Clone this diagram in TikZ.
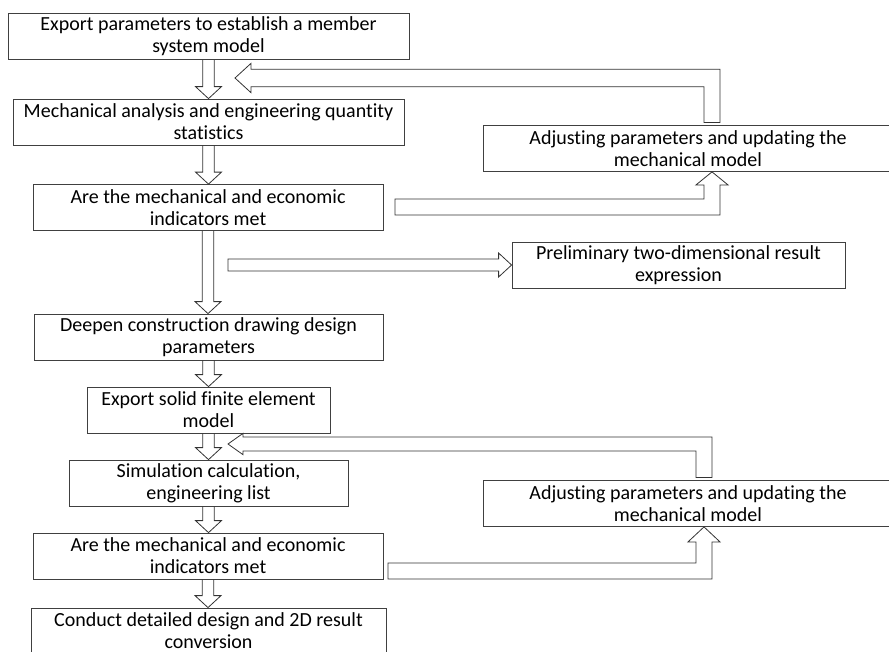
\documentclass[tikz,border=0pt]{standalone}
\usepackage{fontspec}
\setmainfont{Carlito}[Ligatures=NoCommon]
\usetikzlibrary{calc}

\tikzset{
  stepbox/.style={draw=black!75, line width=0.6pt, rectangle, align=center, inner sep=0pt,
    minimum height=34.5pt, font=\fontsize{15}{16.5}\selectfont},
  blockarrow/.style={draw=black!80, line width=0.6pt},
}

\begin{document}
\begin{tikzpicture}[x=0.75pt,y=-0.75pt]
\useasboundingbox (0,0) rectangle (889,651);

% main column
\node[stepbox, minimum width=300.75pt] (b1) at (208.5,36.5) {Export parameters to establish a member\\system model};
\node[stepbox, minimum width=293.25pt] (b2) at (208.5,122) {Mechanical analysis and engineering quantity\\statistics};
\node[stepbox, minimum width=262.5pt] (b3) at (208,207.5) {Are the mechanical and economic\\indicators met};
\node[stepbox, minimum width=261.75pt] (b4) at (208.5,337) {Deepen construction drawing design\\parameters};
\node[stepbox, minimum width=182.25pt] (b5) at (208.5,410) {Export solid finite element\\model};
\node[stepbox, minimum width=209.25pt] (b6) at (208.5,483) {Simulation calculation,\\engineering list};
\node[stepbox, minimum width=262.5pt] (b7) at (208,556) {Are the mechanical and economic\\indicators met};
\node[stepbox, minimum width=266.25pt] (b8) at (208.5,631) {Conduct detailed design and 2D result\\conversion};

% side boxes
\node[stepbox, minimum width=307.5pt] (adj1) at (688,148.5) {Adjusting parameters and updating the\\mechanical model};
\node[stepbox, minimum width=249.75pt] (pre) at (678.5,265) {Preliminary two-dimensional result\\expression};
\node[stepbox, minimum width=307.5pt] (adj2) at (688,503.5) {Adjusting parameters and updating the\\mechanical model};

% down arrows
\foreach \a/\b in {b1/b2,b2/b3,b3/b4,b4/b5,b5/b6,b6/b7,b7/b8}
  \draw[blockarrow] let \p1=(\a.south), \p2=(\b.north) in
    (\x1-4.3pt,\y1) -- (\x1-4.3pt,\y2+9pt) -- (\x1-9.75pt,\y2+9pt) -- (\x1,\y2)
    -- (\x1+9.75pt,\y2+9pt) -- (\x1+4.3pt,\y2+9pt) -- (\x1+4.3pt,\y1);

% to preliminary result
\coordinate (p0) at (228,265);
\draw[blockarrow] let \p1=(p0), \p2=(pre.west) in
  (\x1,\y1+4.5pt) -- (\x2-9.75pt,\y1+4.5pt) -- (\x2-9.75pt,\y2+9pt) -- (\x2,\y2)
  -- (\x2-9.75pt,\y2-9pt) -- (\x2-9.75pt,\y1-4.5pt) -- (\x1,\y1-4.5pt) -- cycle;

% first check loop
\coordinate (s1) at (395,207);
\coordinate (k1) at (712,207);
\coordinate (r1) at (235,78);
\draw[blockarrow] let \p1=(s1), \p2=(k1 |- adj1.south) in
  (\x1,\y1+6pt) -- (\x2-6pt,\y1+6pt) -- (\x2-6pt,\y2-9.75pt) -- (\x2-12pt,\y2-9.75pt) -- (\x2,\y2)
  -- (\x2+12pt,\y2-9.75pt) -- (\x2+6pt,\y2-9.75pt) -- (\x2+6pt,\y1-6pt) -- (\x1,\y1-6pt) -- cycle;
\draw[blockarrow] let \p1=(k1 |- adj1.north), \p2=(r1) in
  (\x1-6pt,\y1+2pt) -- (\x1-6pt,\y2-6.5pt) -- (\x2+12pt,\y2-6.5pt) -- (\x2+12pt,\y2-11pt) -- (\x2,\y2)
  -- (\x2+12pt,\y2+11pt) -- (\x2+12pt,\y2+6.5pt) -- (\x1+6pt,\y2+6.5pt) -- (\x1+6pt,\y1+2pt) -- cycle;

% second check loop
\coordinate (s2) at (388,571);
\coordinate (k2) at (704,571);
\coordinate (r2) at (228,444);
\draw[blockarrow] let \p1=(s2), \p2=(k2 |- adj2.south) in
  (\x1,\y1+6pt) -- (\x2-6pt,\y1+6pt) -- (\x2-6pt,\y2-11.25pt) -- (\x2-12pt,\y2-11.25pt) -- (\x2,\y2)
  -- (\x2+12pt,\y2-11.25pt) -- (\x2+6pt,\y2-11.25pt) -- (\x2+6pt,\y1-6pt) -- (\x1,\y1-6pt) -- cycle;
\draw[blockarrow] let \p1=(k2 |- adj2.north), \p2=(r2) in
  (\x1-6pt,\y1+2pt) -- (\x1-6pt,\y2-5.25pt) -- (\x2+11.25pt,\y2-5.25pt) -- (\x2+11.25pt,\y2-8pt) -- (\x2,\y2)
  -- (\x2+11.25pt,\y2+8pt) -- (\x2+11.25pt,\y2+5.25pt) -- (\x1+6pt,\y2+5.25pt) -- (\x1+6pt,\y1+2pt) -- cycle;
\end{tikzpicture}
\end{document}
